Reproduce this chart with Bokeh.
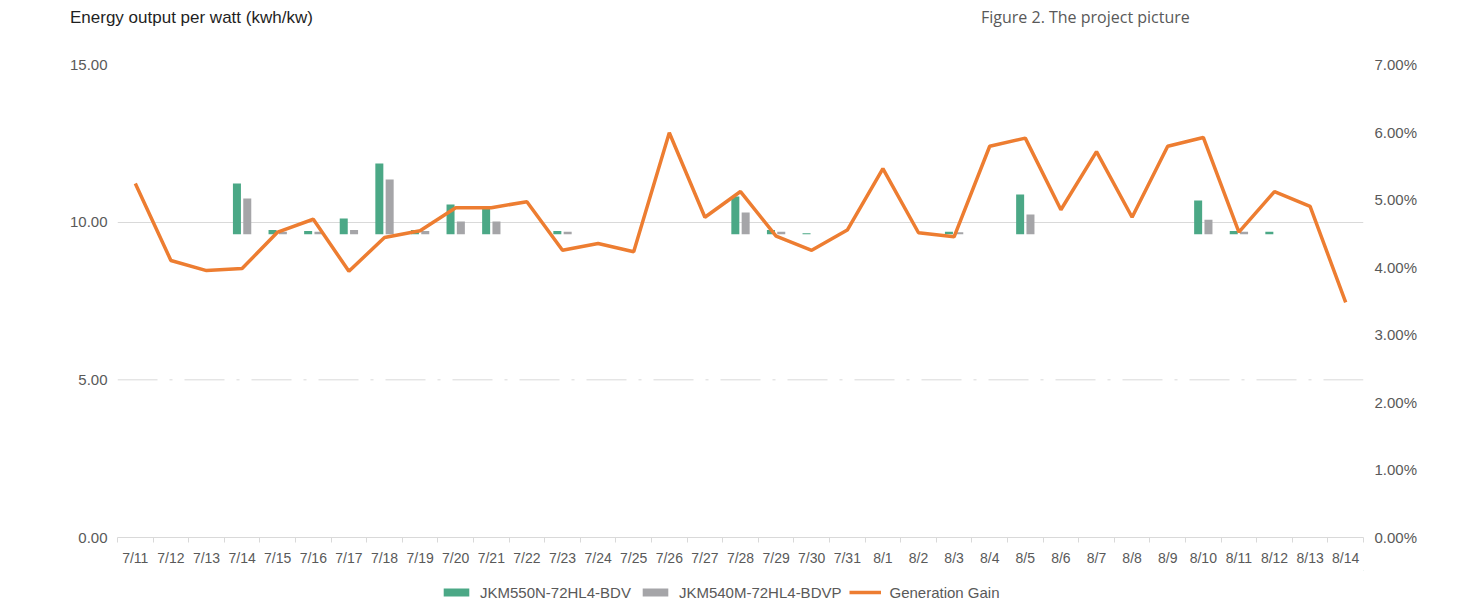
from bokeh.plotting import figure
from bokeh.layouts import column
from bokeh.models import (Range1d, LinearAxis, FixedTicker, PrintfTickFormatter,
                          Legend, LegendItem, Span, ColumnDataSource, Div)
from bokeh.embed import file_html
from bokeh.resources import INLINE

# ---------------- data ----------------
dates = ["7/11", "7/12", "7/13", "7/14", "7/15", "7/16", "7/17", "7/18", "7/19", "7/20",
         "7/21", "7/22", "7/23", "7/24", "7/25", "7/26", "7/27", "7/28", "7/29", "7/30",
         "7/31", "8/1", "8/2", "8/3", "8/4", "8/5", "8/6", "8/7", "8/8", "8/9",
         "8/10", "8/11", "8/12", "8/13", "8/14"]

jkm550n = [9.60, 9.60, 9.60, 11.23, 9.75, 9.72, 10.12, 11.86, 9.75, 10.56,
           10.50, 9.60, 9.72, 9.60, 9.60, 9.60, 9.60, 10.81, 9.75, 9.65,
           9.60, 9.60, 9.60, 9.70, 9.60, 10.88, 9.60, 9.60, 9.60, 9.60,
           10.69, 9.72, 9.70, 9.60, 9.60]

jkm540m = [9.60, 9.60, 9.60, 10.75, 9.70, 9.70, 9.75, 11.35, 9.72, 10.02,
           10.02, 9.60, 9.70, 9.60, 9.60, 9.60, 9.60, 10.31, 9.70, 9.60,
           9.60, 9.60, 9.60, 9.68, 9.60, 10.24, 9.60, 9.60, 9.60, 9.60,
           10.08, 9.70, 9.60, 9.60, 9.60]

gain_pct = [5.24, 4.10, 3.95, 3.98, 4.52, 4.71, 3.94, 4.44, 4.54, 4.88,
            4.88, 4.97, 4.25, 4.35, 4.23, 5.99, 4.74, 5.12, 4.46, 4.25,
            4.55, 5.46, 4.51, 4.45, 5.79, 5.91, 4.85, 5.71, 4.74, 5.79,
            5.92, 4.52, 5.12, 4.90, 3.48]

series_names = ["JKM550N-72HL4-BDV", "JKM540M-72HL4-BDVP", "Generation Gain"]
left_ticks = [0, 5, 10, 15]
right_ticks = [0, 1, 2, 3, 4, 5, 6, 7]
title_text = "Energy output per watt (kwh/kw)"
caption_text = "Figure 2. The project picture"

# ---------------- styling ----------------
GREEN = "#4BA886"
GRAY = "#A5A5A8"
ORANGE = "#ED7D31"
GRID = "#D9D9D9"
TXT = "#595959"
FONT = "Liberation Sans"
BAR_BASE = 9.62
BAR_W = 0.225
OFF = 0.145
W = 1469
TOP_H, MAIN_H, BOT_H = 40, 530, 31

n = len(dates)
centers = [i + 0.5 for i in range(n)]

# ---------------- top strip: title + caption ----------------
top_html = (
    f'<div style="position:relative;width:{W}px;height:{TOP_H}px;">'
    f'<span style="position:absolute;left:70px;top:8px;white-space:nowrap;'
    f'font-family:\'Liberation Sans\';font-size:17px;line-height:20px;color:#1F1F1F;">'
    f'{title_text}</span>'
    f'<span style="position:absolute;left:981px;top:7px;white-space:nowrap;'
    f'font-family:\'Open Sans\';font-size:16px;line-height:20px;color:{TXT};">'
    f'{caption_text}</span></div>'
)
top = Div(text=top_html, width=W, height=TOP_H, margin=0)

# ---------------- main chart ----------------
src = ColumnDataSource(dict(
    xg=[c - OFF for c in centers],
    xs=[c + OFF for c in centers],
    xc=centers,
    g=[max(v, BAR_BASE) for v in jkm550n],
    s=[max(v, BAR_BASE) for v in jkm540m],
    pct=gain_pct,
))

p = figure(width=W, height=MAIN_H, output_backend="svg", toolbar_location=None,
           x_range=Range1d(0, n), y_range=Range1d(0, 15),
           min_border_left=117, min_border_right=106, min_border_top=24,
           min_border_bottom=33)
p.extra_y_ranges = {"pct": Range1d(0, 7)}
p.outline_line_color = None

p.xgrid.visible = False
p.ygrid.ticker = FixedTicker(ticks=[10, 15])
p.ygrid.grid_line_color = GRID
p.ygrid.grid_line_width = 1

p.add_layout(Span(location=5, dimension="width", line_color=GRID, line_width=1,
                  line_dash="40 12 3 12"))

ya = p.yaxis[0]
ya.ticker = FixedTicker(ticks=left_ticks)
ya.formatter = PrintfTickFormatter(format="%.2f")
ya.axis_line_color = None
ya.major_tick_line_color = None
ya.minor_tick_line_color = None
ya.major_tick_out = 0
ya.major_label_standoff = 10
ya.major_label_text_font = FONT
ya.major_label_text_font_size = "15px"
ya.major_label_text_color = TXT

ra = LinearAxis(y_range_name="pct", ticker=FixedTicker(ticks=right_ticks),
                formatter=PrintfTickFormatter(format="%.2f%%"))
ra.axis_line_color = None
ra.major_tick_line_color = None
ra.minor_tick_line_color = None
ra.major_tick_out = 0
ra.major_label_standoff = 11
ra.major_label_text_font = FONT
ra.major_label_text_font_size = "15px"
ra.major_label_text_color = TXT
p.add_layout(ra, "right")

xa = p.xaxis[0]
xa.ticker = FixedTicker(ticks=centers, minor_ticks=list(range(n + 1)))
xa.major_label_overrides = {c: d for c, d in zip(centers, dates)}
xa.axis_line_color = GRID
xa.major_tick_line_color = None
xa.major_tick_out = 0
xa.major_tick_in = 0
xa.minor_tick_line_color = GRID
xa.minor_tick_out = 5
xa.minor_tick_in = 0
xa.major_label_standoff = 7
xa.major_label_text_font = FONT
xa.major_label_text_font_size = "14px"
xa.major_label_text_color = TXT

p.vbar(x="xg", top="g", bottom=BAR_BASE, width=BAR_W, source=src,
       fill_color=GREEN, line_color=None)
p.vbar(x="xs", top="s", bottom=BAR_BASE, width=BAR_W, source=src,
       fill_color=GRAY, line_color=None)
p.line(x="xc", y="pct", source=src, y_range_name="pct",
       line_color=ORANGE, line_width=3.5)

# ---------------- bottom strip: legend ----------------
bot = figure(width=W, height=BOT_H, output_backend="svg", toolbar_location=None,
             x_range=Range1d(0, 1), y_range=Range1d(0, 1),
             x_axis_location=None, y_axis_location=None, min_border=0)
bot.outline_line_color = None
bot.grid.visible = False
# legend-key renderers (kept outside the visible range of this strip)
lg = bot.vbar(x=[5], top=[5], bottom=[4], width=1, fill_color=GREEN, line_color=None)
ls = bot.vbar(x=[5], top=[5], bottom=[4], width=1, fill_color=GRAY, line_color=None)
ll = bot.line(x=[5, 6], y=[5, 5], line_color=ORANGE, line_width=3.5)

legend = Legend(items=[
    LegendItem(label=series_names[0], renderers=[lg]),
    LegendItem(label=series_names[1], renderers=[ls]),
    LegendItem(label=series_names[2], renderers=[ll]),
], orientation="horizontal", location=(323, 0))
legend.label_text_font = FONT
legend.label_text_font_size = "15px"
legend.label_text_color = TXT
legend.label_height = 18
legend.glyph_width = 32
legend.glyph_height = 10
legend.label_standoff = 8
legend.spacing = 8
legend.padding = 0
legend.margin = 0
legend.border_line_color = None
legend.background_fill_alpha = 0
bot.add_layout(legend, "center")

layout = column(top, p, bot, spacing=0)
open("out.html", "w").write(file_html(layout, INLINE))
